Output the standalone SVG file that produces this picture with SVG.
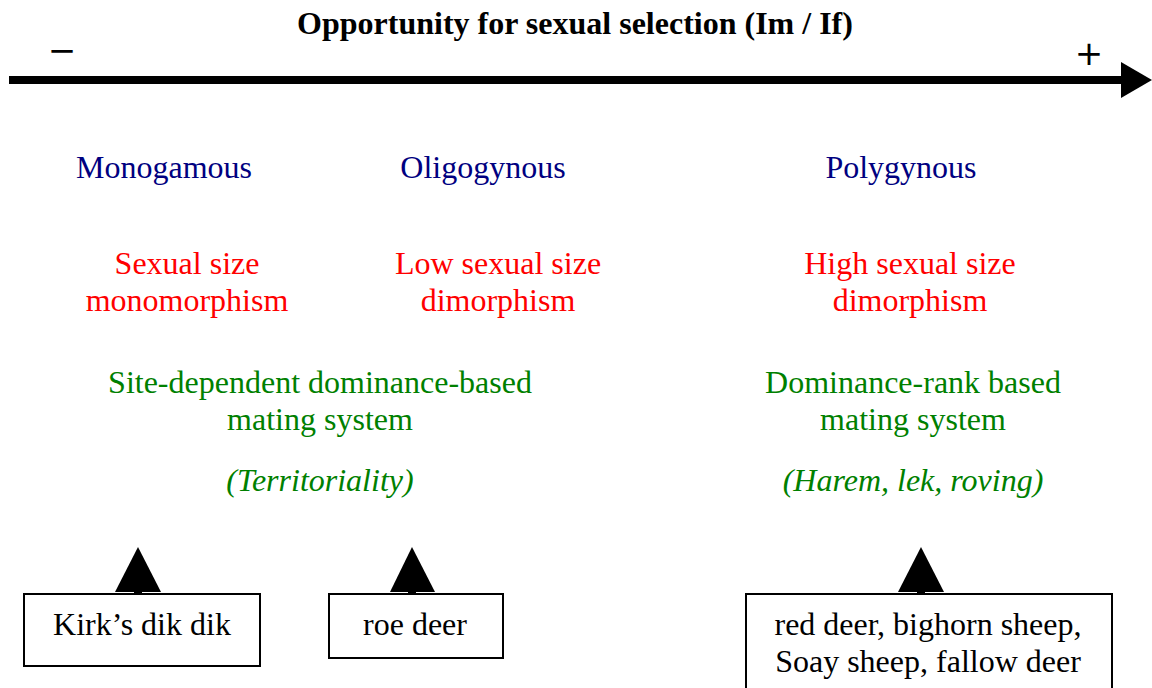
<svg xmlns="http://www.w3.org/2000/svg" width="1152" height="688" viewBox="0 0 1152 688">
<style>
text { font-family: "Liberation Serif", "Times New Roman", serif; font-size: 32px; text-anchor: middle; }
.title { font-weight: bold; }
.sym { font-family: "DejaVu Sans", sans-serif; font-size: 34px; }
.blue { fill: #000080; }
.red { fill: #FF0000; }
.green { fill: #008000; }
.it { font-style: italic; }
.box { fill: #ffffff; stroke: #000000; stroke-width: 2; }
.tri { fill: #000000; }
</style>
<rect width="1152" height="688" fill="#ffffff"/>
<g id="axis">
<text class="title" x="575" y="34">Opportunity for sexual selection (Im / If)</text>
<text class="sym" x="62" y="62">−</text>
<text class="sym" x="1089" y="65">+</text>
<rect x="9" y="76" width="1114" height="8" fill="#000000"/>
<polygon points="1121,62 1152,80 1121,98" fill="#000000"/>
</g>
<g id="monogamous">
<text class="blue" x="164" y="178">Monogamous</text>
<text class="red" x="187" y="274">Sexual size</text>
<text class="red" x="187" y="311">monomorphism</text>
</g>
<g id="oligogynous">
<text class="blue" x="483" y="178">Oligogynous</text>
<text class="red" x="498" y="274">Low sexual size</text>
<text class="red" x="498" y="311">dimorphism</text>
</g>
<g id="polygynous">
<text class="blue" x="901" y="178">Polygynous</text>
<text class="red" x="910" y="274">High sexual size</text>
<text class="red" x="910" y="311">dimorphism</text>
</g>
<g id="site-dependent">
<text class="green" x="320" y="393">Site-dependent dominance-based</text>
<text class="green" x="320" y="430">mating system</text>
<text class="green it" x="320" y="491">(Territoriality)</text>
</g>
<g id="dominance-rank">
<text class="green" x="913" y="393">Dominance-rank based</text>
<text class="green" x="913" y="430">mating system</text>
<text class="green it" x="913" y="491">(Harem, lek, roving)</text>
</g>
<g id="connectors">
<polygon class="tri" points="138,547 161,592 115,592"/>
<rect x="134" y="590" width="8" height="5" fill="#000"/>
<polygon class="tri" points="412,547 435,592 390,592"/>
<rect x="408" y="590" width="8" height="5" fill="#000"/>
<polygon class="tri" points="921,547 944,592 898,592"/>
<rect x="917" y="590" width="8" height="5" fill="#000"/>
</g>
<g id="kirk">
<rect class="box" x="24" y="594" width="236" height="72"/>
<text x="142" y="635">Kirk’s dik dik</text>
</g>
<g id="roe">
<rect class="box" x="329" y="594" width="174" height="64"/>
<text x="415" y="635">roe deer</text>
</g>
<g id="red-deer">
<rect class="box" x="746" y="594" width="366" height="110"/>
<text x="928" y="635">red deer, bighorn sheep,</text>
<text x="928" y="672">Soay sheep, fallow deer</text>
</g>
</svg>
